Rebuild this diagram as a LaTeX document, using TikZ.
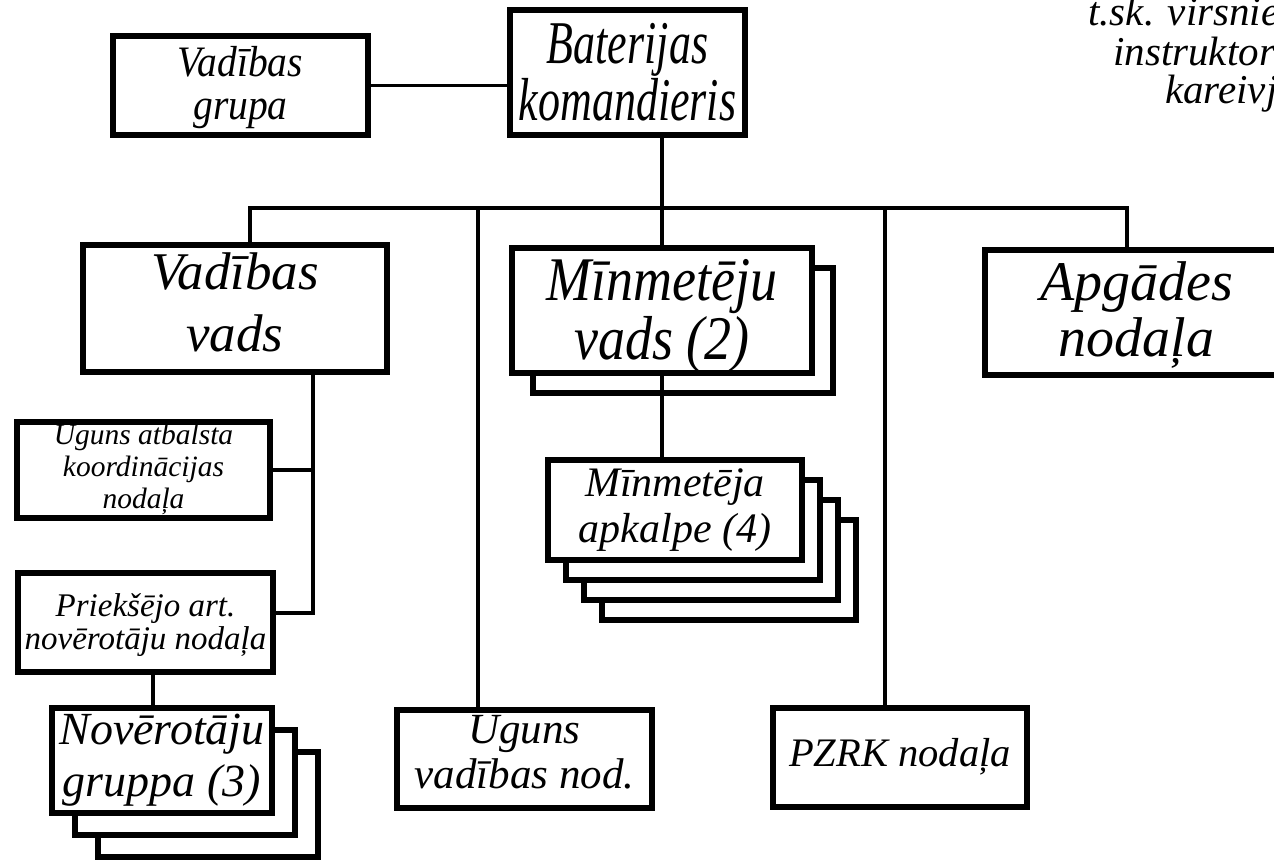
\documentclass[tikz,border=0pt]{standalone}
\usepackage{fontspec}
\setmainfont{Liberation Serif}
\usepackage{graphicx}
\newcommand{\fsz}[2]{\fontsize{#1pt}{#2pt}\selectfont\itshape}
% #1 vertical shift, #2 vertical stretch, #3 font size, #4 line skip, #5 lines
\newcommand{\txt}[5]{\raisebox{#1}[\height][\depth]{\scalebox{1}[#2]{\fsz{#3}{#4}\begin{tabular}{@{}c@{}}#5\end{tabular}}}}
\tikzset{
  box/.style={draw, line width=5.5pt, fill=white, rectangle, inner sep=0pt,
    outer sep=0pt, anchor=north west, align=center},
  conn/.style={line width=3.5pt},
  note/.style={anchor=base west, inner sep=0pt, font=\fsz{41}{41}},
}
\begin{document}
\begin{tikzpicture}[x=1pt,y=-1pt]
\useasboundingbox (0,0) rectangle (1274,863);
\clip (0,0) rectangle (1274,863);
\fill[white] (0,0) rectangle (1274,863);

% top row
\node[box, minimum width=255pt, minimum height=99pt] (grp) at (113,36)
  {\txt{-4pt}{1.1}{39.5}{39}{Vadības\\grupa}};
\node[box, minimum width=235pt, minimum height=125pt] (bat) at (510,10)
  {\txt{-7pt}{1.38}{44}{36.5}{Baterijas\\komandieris}};

% second row
\node[box, minimum width=304pt, minimum height=127pt] (vvads) at (83,245)
  {\txt{0pt}{1}{53}{62}{Vadības\\vads}};
\node[box, minimum width=300pt, minimum height=125pt] (mvads2) at (533,268) {};
\node[box, minimum width=300pt, minimum height=125pt] (mvads) at (512,248)
  {\txt{-7pt}{1.15}{54}{46}{Mīnmetēju\\vads (2)}};
\node[box, minimum width=303pt, minimum height=125pt] (apg) at (985,250)
  {\txt{-5pt}{1}{56}{56}{Apgādes\\nodaļa}};

% left column
\node[box, minimum width=253pt, minimum height=96pt] (uak) at (17,422)
  {\txt{0pt}{1}{29.5}{32}{Uguns atbalsta\\koordinācijas\\nodaļa}};
\node[box, minimum width=255pt, minimum height=99pt] (pan) at (18,573)
  {\txt{-4pt}{1}{33}{33}{Priekšējo art.\\novērotāju nodaļa}};
\node[box, minimum width=220pt, minimum height=105pt] (nov3) at (98,752) {};
\node[box, minimum width=220pt, minimum height=105pt] (nov2) at (75,730) {};
\node[box, minimum width=220pt, minimum height=105pt] (nov) at (52,708)
  {\txt{0pt}{1}{46}{52}{Novērotāju\\gruppa (3)}};

% mortar crews
\node[box, minimum width=254pt, minimum height=100pt] (mapk4) at (602,520) {};
\node[box, minimum width=254pt, minimum height=100pt] (mapk3) at (584,500) {};
\node[box, minimum width=254pt, minimum height=100pt] (mapk2) at (566,480) {};
\node[box, minimum width=254pt, minimum height=100pt] (mapk) at (548,460)
  {\txt{0pt}{1}{42}{46}{Mīnmetēja\\apkalpe (4)}};

% bottom row
\node[box, minimum width=255pt, minimum height=98pt] (uvn) at (397,710)
  {\txt{2pt}{1}{43}{45}{Uguns\\vadības nod.}};
\node[box, minimum width=254pt, minimum height=99pt] (pzrk) at (773,708)
  {\txt{0pt}{1}{40.5}{45}{PZRK nodaļa}};

% note at top right (cut off by the picture edge, as in the source)
\node[note] (n1) at (1088,25) {t.sk. virsnie};
\node[note] (n2) at (1113,65) {instruktor};
\node[note] (n3) at (1165,103) {kareivj};

% connector points
\coordinate (busL) at (250,208);
\coordinate (busR) at (1127,208);
\coordinate (t1) at (478,208);
\coordinate (t2) at (885,208);
\coordinate (vd) at (313,372);
\coordinate (j2) at (313,613);
\coordinate (pd) at (153,672);

% connectors
\draw[conn] (grp.east) -- (grp.east -| bat.west);
\draw[conn] (bat.south -| mvads.north) -- (mvads.north);
\draw[conn] (busL |- vvads.north) -- (busL) -- (busR) -- (busR |- apg.north);
\draw[conn] (t1) -- (t1 |- uvn.north);
\draw[conn] (t2) -- (t2 |- pzrk.north);
\draw[conn] (vd) -- (j2) -- (j2 -| pan.east);
\draw[conn] (uak.east) -- (uak.east -| vd);
\draw[conn] (pd) -- (pd |- nov.north);
\draw[conn] (mvads.south) -- (mvads.south |- mapk.north);
\end{tikzpicture}
\end{document}
